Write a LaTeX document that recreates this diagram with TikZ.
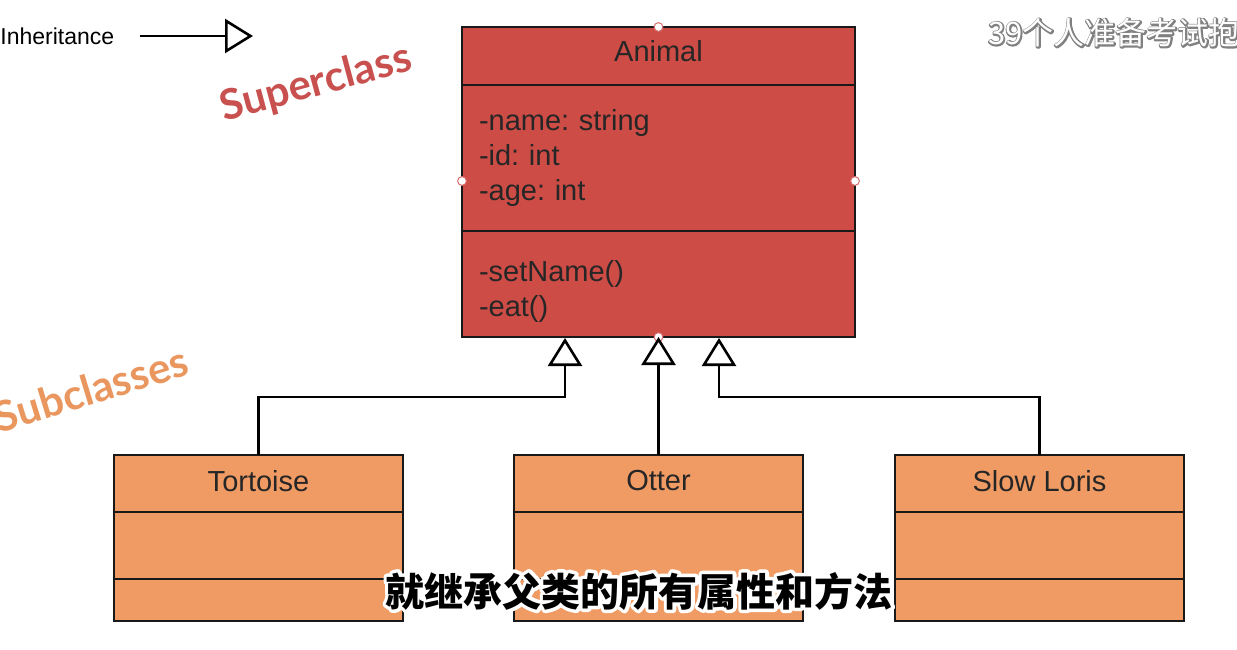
\documentclass[tikz,border=0pt]{standalone}
\usepackage{fontspec}
\setmainfont{Liberation Sans}
\newfontfamily\cjk{Noto Sans CJK SC}
\newfontfamily\tagfont{Lato}
\usepackage{xcolor}
\usepackage{tikz}
\usetikzlibrary{positioning, arrows.meta}

\definecolor{superred}{RGB}{205,76,70}
\definecolor{suborange}{RGB}{240,155,100}
\definecolor{tagred}{RGB}{200,80,78}
\definecolor{tagorange}{RGB}{233,150,95}
\definecolor{edgeblack}{RGB}{25,25,25}
\definecolor{handlered}{RGB}{215,110,110}

% text with a stroked halo behind it
\newcommand\halotext[4]{%
  \makebox[0pt][l]{\special{pdf:literal direct 2 Tr #2 w 1 j 1 J}\textcolor{#1}{#4}\special{pdf:literal direct 0 Tr}}%
  \textcolor{#3}{#4}}

\frenchspacing

\begin{document}
\begin{tikzpicture}[
    x=0.5pt, y=-0.5pt,
    classbox/.style={
        rectangle,
        draw=edgeblack,
        line width=1pt,
        inner sep=0pt,
        outer sep=0pt,
        text=black!85,
        font=\fontsize{14.5}{17.5}\selectfont
    },
    superhead/.style={classbox, fill=superred, minimum width=196.5pt, minimum height=29pt, text depth=5pt},
    superpart/.style={classbox, fill=superred, text width=179.5pt, inner xsep=8.5pt, align=left},
    subhead/.style={classbox, fill=suborange, minimum width=144.5pt, minimum height=28.5pt, text depth=3pt},
    subpart/.style={classbox, fill=suborange, minimum width=144.5pt, minimum height=33.5pt},
    subfoot/.style={classbox, fill=suborange, minimum width=144.5pt, minimum height=21pt},
    inherit/.style={
        line width=1.3pt,
        -{Triangle[open, length=14pt, width=17pt]}
    },
    tag/.style={inner sep=0pt, font=\tagfont\bfseries\fontsize{21}{24}\selectfont},
    handle/.style={draw=handlered, fill=white, line width=0.5pt}
]

\useasboundingbox (0,0) rectangle (1237,649);

% Legend

\node[anchor=west, inner sep=0pt, font=\fontsize{11.5}{14}\selectfont] (legend) at (0,36) {Inheritance};
\coordinate (legend-tip) at (253,36);
\draw[inherit] ([xshift=12.5pt]legend.east) -- (legend-tip);

% Superclass

\node[superhead, anchor=north] (animal) at (658.5,27) {Animal};

\node[superpart, minimum height=73pt, below=0pt of animal] (animal-attr) {
-name: string\\
-id: int\\
-age: int
};

\node[superpart, minimum height=53pt, text depth=13pt, below=0pt of animal-attr] (animal-ops) {
-setName()\\
-eat()
};

\foreach \p in {(658.5,27), (462,181), (855,181), (658.5,337)}
    \draw[handle] \p circle (2.2pt);

% Subclasses

\node[subhead, below=59pt of animal-ops] (otter) {Otter};
\node[subpart, below=0pt of otter] (otter-attr) {};
\node[subfoot, below=0pt of otter-attr] (otter-ops) {};

\node[subhead, left=55.5pt of otter] (tortoise) {Tortoise};
\node[subpart, below=0pt of tortoise] (tortoise-attr) {};
\node[subfoot, below=0pt of tortoise-attr] (tortoise-ops) {};

\node[subhead, right=46pt of otter] (loris) {Slow Loris};
\node[subpart, below=0pt of loris] (loris-attr) {};
\node[subfoot, below=0pt of loris-attr] (loris-ops) {};

% Arrows

\coordinate (tip-left) at (565,338);
\coordinate (tip-right) at (719,338);

\draw[inherit] (tortoise.north) -- ++(0,-58) -| (tip-left);
\draw[inherit] (otter.north) -- (otter.north |- animal-ops.south);
\draw[inherit] (loris.north) -- ++(0,-58) -| (tip-right);

% Tags

\node[tag, text=tagred, rotate=15] (super-tag) at (316,84) {Superclass};
\node[tag, text=tagorange, rotate=17] (sub-tag) at (91,389) {Subclasses};

% Overlay text

\node[inner sep=0pt, font=\cjk\bfseries\fontsize{19.5}{22}\selectfont] (subtitle) at (639,591) {\halotext{white}{3.5}{black}{就继承父类的所有属性和方法}};

\node[anchor=west, inner sep=0pt, font=\cjk\fontsize{15.5}{18}\selectfont] (watermark) at (988,33) {\halotext{gray}{1.4}{white}{39个人准备考试抱}};

\end{tikzpicture}
\end{document}
